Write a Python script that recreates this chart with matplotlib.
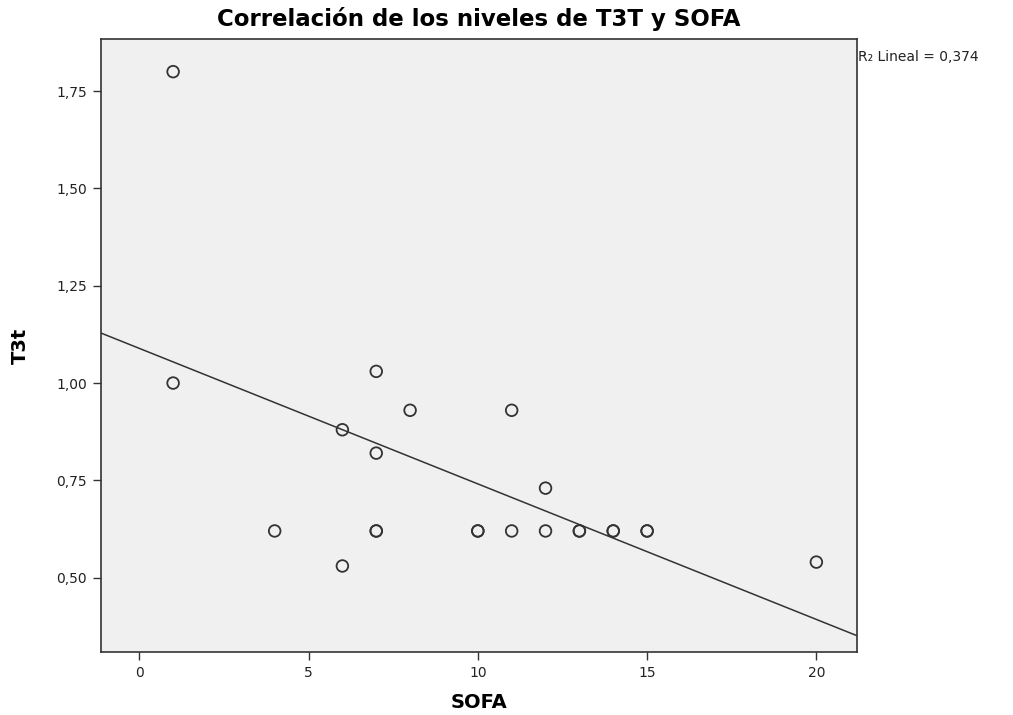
import numpy as np
import matplotlib
matplotlib.use("Agg")
import matplotlib.pyplot as plt
from matplotlib.ticker import FuncFormatter, FixedLocator

# Data
sofa = [1, 1, 4, 6, 6, 7, 7, 7, 7, 8, 10, 10, 11, 11, 12, 12, 13, 13, 14, 14, 15, 15, 20]
t3t = [1.80, 1.00, 0.62, 0.88, 0.53, 1.03, 0.82, 0.62, 0.62, 0.93, 0.62, 0.62,
       0.93, 0.62, 0.73, 0.62, 0.62, 0.62, 0.62, 0.62, 0.62, 0.62, 0.54]
x_ticks = [0, 5, 10, 15, 20]
y_ticks = [0.50, 0.75, 1.00, 1.25, 1.50, 1.75]
title = "Correlación de los niveles de T3T y SOFA"
r2_label = "R\u2082 Lineal = 0,374"

fig = plt.figure(figsize=(10.13, 7.15), dpi=100)
fig.patch.set_facecolor("white")
ax = fig.add_axes([0.0997, 0.0881, 0.7463, 0.8574])
ax.set_facecolor("#f0f0f0")

xlim = (-1.13, 21.2)
ylim = (0.309, 1.884)
ax.set_xlim(*xlim)
ax.set_ylim(*ylim)

# regression line
slope, intercept = np.polyfit(np.array(sofa, float), np.array(t3t, float), 1)
xs = np.array(xlim)
ax.plot(xs, intercept + slope * xs, color="#333333", lw=1.1, zorder=2)

ax.scatter(sofa, t3t, s=70, facecolors="none", edgecolors="#333333", linewidths=1.3, zorder=3)

ax.xaxis.set_major_locator(FixedLocator(x_ticks))
ax.yaxis.set_major_locator(FixedLocator(y_ticks))
ax.yaxis.set_major_formatter(FuncFormatter(lambda v, p: f"{v:.2f}".replace(".", ",")))
ax.xaxis.set_major_formatter(FuncFormatter(lambda v, p: f"{int(v)}"))
ax.tick_params(axis="both", direction="out", length=6, width=1, color="#333333",
               labelsize=10, labelcolor="#222222", pad=4)
ax.tick_params(top=False, right=False)
for sp in ax.spines.values():
    sp.set_color("#333333")
    sp.set_linewidth(1.2)

ax.set_xlabel("SOFA", fontsize=14, fontweight="bold", va="center")
ax.xaxis.set_label_coords(0.5, -0.083)
ax.set_ylabel("T3t", fontsize=14, fontweight="bold", va="center")
ax.yaxis.set_label_coords(-0.107, 0.5)
fig.text(0.473, 0.974, title, ha="center", va="center", fontsize=16.5, fontweight="bold")
fig.text(0.847, 0.920, r2_label, ha="left", va="center", fontsize=10, color="#222222")

fig.savefig("out.png", dpi=100)
